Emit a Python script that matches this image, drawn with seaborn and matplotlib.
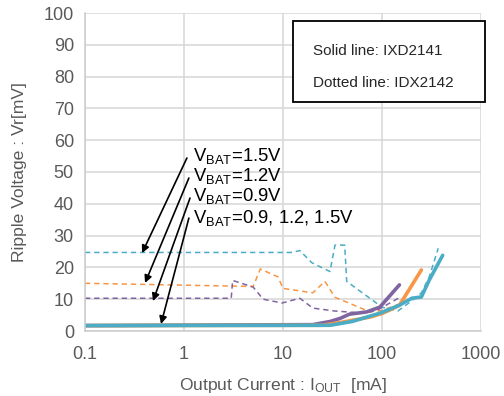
import numpy as np
import matplotlib
matplotlib.use("Agg")
import matplotlib.pyplot as plt
from matplotlib.patches import Rectangle
import seaborn as sns

# ripple data (x in mA, y in mV)
# solid lines: IXD2141
solid_09_x = [0.1, 20, 30, 38, 47, 70, 95, 150]
solid_09_y = [1.7, 2.0, 3.0, 4.0, 5.3, 6.0, 7.5, 14.5]
solid_12_x = [0.1, 25, 40, 60, 76, 100, 120, 150, 250]
solid_12_y = [1.7, 1.8, 2.8, 3.8, 4.4, 5.5, 6.6, 8.1, 19.2]
solid_15_x = [0.1, 30, 50, 64, 95, 150, 200, 250, 300, 410]
solid_15_y = [1.7, 1.8, 3.0, 4.0, 5.6, 8.1, 10.3, 10.7, 16.0, 23.8]

# dotted lines: IDX2142
dot_15_x = [0.1, 12.3, 14.8, 19.5, 29.8, 33.5, 42, 44, 100, 145, 200, 250, 300, 370]
dot_15_y = [24.7, 24.7, 25.3, 21.5, 18.7, 27.0, 27.0, 15.6, 7.5, 6.3, 9.5, 12.0, 17.0, 26.0]
dot_12_x = [0.1, 5.0, 5.9, 8.9, 10, 20, 26.5, 33.5, 76, 100, 150]
dot_12_y = [15.0, 14.0, 19.5, 17.0, 13.4, 12.0, 15.6, 10.6, 6.0, 6.5, 8.5]
dot_09_x = [0.1, 3.0, 3.1, 5.0, 6.3, 9.8, 14.8, 20, 33, 67, 90, 150]
dot_09_y = [10.3, 10.3, 15.9, 13.8, 10.0, 8.8, 10.3, 7.2, 6.3, 5.6, 6.6, 10.5]

vbat_labels = ["V$_{BAT}$=1.5V", "V$_{BAT}$=1.2V", "V$_{BAT}$=0.9V", "V$_{BAT}$=0.9, 1.2, 1.5V"]
arrow_tails = [(1.07, 54.4), (1.12, 48.1), (1.15, 41.8), (1.12, 35.5)]
arrow_heads = [(0.377, 24.5), (0.404, 15.1), (0.486, 9.4), (0.586, 2.2)]
label_y = [53.5, 47.2, 40.9, 34.0]

x_ticks = [0.1, 1, 10, 100, 1000]
x_ticklabels = ["0.1", "1", "10", "100", "1000"]

c_cyan = "#4BACC6"
c_orange = "#F79646"
c_purple = "#8064A2"

sns.set_theme(style="white")
plt.rcParams["font.family"] = ["Liberation Sans", "DejaVu Sans"]
plt.rcParams["mathtext.fontset"] = "custom"
plt.rcParams["mathtext.rm"] = "Liberation Sans"
plt.rcParams["mathtext.default"] = "regular"

fig = plt.figure(figsize=(5.04, 3.96), dpi=100)
ax = fig.add_axes([85 / 504, 1 - 331 / 396, (481 - 85) / 504, (331 - 13) / 396])

dash = (0, (3.5, 2.5))
sns.lineplot(x=dot_15_x, y=dot_15_y, ax=ax, color=c_cyan, lw=1.1, linestyle=dash, sort=False)
sns.lineplot(x=dot_12_x, y=dot_12_y, ax=ax, color=c_orange, lw=1.1, linestyle=dash, sort=False)
sns.lineplot(x=dot_09_x, y=dot_09_y, ax=ax, color=c_purple, lw=1.1, linestyle=dash, sort=False)
sns.lineplot(x=solid_09_x, y=solid_09_y, ax=ax, color=c_purple, lw=2.6, sort=False)
sns.lineplot(x=solid_12_x, y=solid_12_y, ax=ax, color=c_orange, lw=2.6, sort=False)
sns.lineplot(x=solid_15_x, y=solid_15_y, ax=ax, color=c_cyan, lw=2.6, sort=False)

ax.set_xscale("log")
ax.set_xlim(0.1, 1000)
ax.set_ylim(0, 100)
ax.set_xticks(x_ticks)
ax.set_xticklabels(x_ticklabels)
ax.xaxis.set_minor_locator(matplotlib.ticker.NullLocator())
ax.set_yticks(range(0, 101, 10))
ax.tick_params(axis="both", length=0, labelsize=13, labelcolor="#595959")
ax.tick_params(axis="x", pad=11)
ax.tick_params(axis="y", pad=8)
ax.grid(True, color="#d6d6d6", lw=1.1)
ax.set_axisbelow(True)
for s in ["top", "right"]:
    ax.spines[s].set_visible(False)
for s in ["left", "bottom"]:
    ax.spines[s].set_color("#cccccc")
    ax.spines[s].set_linewidth(1.1)

ax.set_xlabel("Output Current : I$_{OUT}$  [mA]", fontsize=12.6, color="#595959", labelpad=9)
ax.set_ylabel("Ripple Voltage : Vr[mV]", fontsize=12.6, color="#595959", labelpad=12)

for lab, ly, tail, head in zip(vbat_labels, label_y, arrow_tails, arrow_heads):
    ax.text(1.23, ly, lab, fontsize=13.3, color="black", va="baseline", ha="left")
    ax.annotate("", xy=head, xytext=tail,
                arrowprops=dict(arrowstyle="-|>", color="black", lw=1.2,
                                mutation_scale=11, shrinkA=0, shrinkB=0))

fig.patches.append(Rectangle((293 / 504, 1 - 102 / 396), (485 - 293) / 504, (102 - 21) / 396,
                             transform=fig.transFigure, facecolor="white",
                             edgecolor="black", lw=1.3, zorder=5))
fig.text(313 / 504, 1 - 51 / 396, "Solid line: IXD2141", fontsize=11, va="center", ha="left", zorder=6)
fig.text(313 / 504, 1 - 83 / 396, "Dotted line: IDX2142", fontsize=11, va="center", ha="left", zorder=6)

fig.savefig("out.png", dpi=100)
